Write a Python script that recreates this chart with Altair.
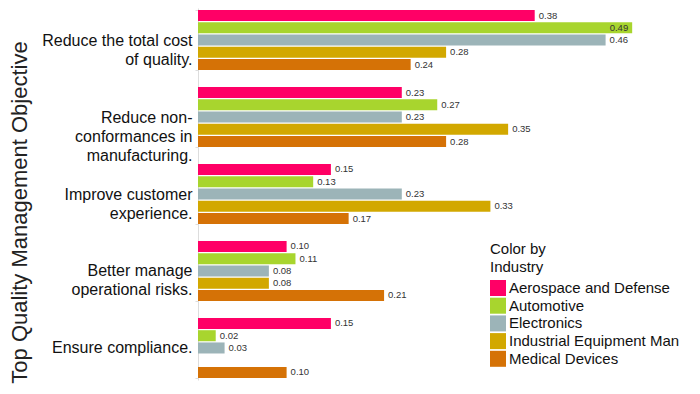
import altair as alt
import pandas as pd

objectives = [
    "Reduce the total cost of quality.",
    "Reduce non-conformances in manufacturing.",
    "Improve customer experience.",
    "Better manage operational risks.",
    "Ensure compliance.",
]
objective_lines = [
    ["Reduce the total cost", "of quality."],
    ["Reduce non-", "conformances in", "manufacturing."],
    ["Improve customer", "experience."],
    ["Better manage", "operational risks."],
    ["Ensure compliance."],
]
industries = [
    "Aerospace and Defense",
    "Automotive",
    "Electronics",
    "Industrial Equipment Man",
    "Medical Devices",
]
colors = ["#FF0066", "#A8D52E", "#9CB4B8", "#D2A800", "#D57206"]

values = {
    "Aerospace and Defense": [0.38, 0.23, 0.15, 0.10, 0.15],
    "Automotive": [0.49, 0.27, 0.13, 0.11, 0.02],
    "Electronics": [0.46, 0.23, 0.23, 0.08, 0.03],
    "Industrial Equipment Man": [0.28, 0.35, 0.33, 0.08, None],
    "Medical Devices": [0.24, 0.28, 0.17, 0.21, 0.10],
}

rows = []
for ind in industries:
    for obj, v in zip(objectives, values[ind]):
        if v is not None:
            rows.append({"Objective": obj, "Industry": ind, "Value": v})
df = pd.DataFrame(rows)

label_map = "{" + ", ".join(
    "'" + o + "': [" + ", ".join("'" + l + "'" for l in lines) + "]"
    for o, lines in zip(objectives, objective_lines)
) + "}"

FONT = "Liberation Sans"

y_enc = alt.Y(
    "Objective:N",
    sort=objectives,
    scale=alt.Scale(paddingInner=0.22, paddingOuter=0.026),
    axis=alt.Axis(
        title="Top Quality Management Objective",
        titleFontSize=22,
        titleFontWeight="normal",
        titleColor="#222222",
        titlePadding=10,
        titleY=204,
        labelFontSize=16,
        labelColor="#111111",
        labelPadding=3,
        labelLineHeight=19,
        labelExpr=label_map + "[datum.value]",
        domainColor="#dddddd",
        tickColor="#dddddd",
        tickSize=3,
        tickBand="extent",
        labelLimit=300,
    ),
)
yoff = alt.YOffset(
    "Industry:N",
    sort=industries,
    scale=alt.Scale(domain=industries, paddingInner=0.1),
)
x_enc = alt.X(
    "Value:Q",
    scale=alt.Scale(domain=[0, 0.553], nice=False),
    axis=None,
)

bars = alt.Chart(df).mark_bar().encode(
    y=y_enc,
    yOffset=yoff,
    x=x_enc,
    color=alt.Color(
        "Industry:N",
        sort=industries,
        scale=alt.Scale(domain=industries, range=colors),
        legend=alt.Legend(
            title=["Color by", "Industry"],
            titleFontSize=15,
            titleFontWeight="normal",
            titleColor="#111111",
            titleLineHeight=18,
            titlePadding=5,
            labelFontSize=15,
            labelColor="#111111",
            labelOffset=3,
            symbolType="square",
            symbolSize=256,
            symbolStrokeWidth=0,
            symbolOpacity=1,
            rowPadding=1.7,
            orient="none",
            legendX=292,
            legendY=234,
            labelLimit=300,
        ),
    ),
)

text_out = alt.Chart(df).transform_filter("datum.Value < 0.48").mark_text(
    align="left", baseline="middle", dx=4, fontSize=9.5, color="#333333", font=FONT
).encode(
    y=alt.Y("Objective:N", sort=objectives),
    yOffset=yoff,
    x=x_enc,
    text=alt.Text("Value:Q", format=".2f"),
)
text_in = alt.Chart(df).transform_filter("datum.Value >= 0.48").mark_text(
    align="right", baseline="middle", dx=-4, fontSize=9.5, color="#333333", font=FONT
).encode(
    y=alt.Y("Objective:N", sort=objectives),
    yOffset=yoff,
    x=x_enc,
    text=alt.Text("Value:Q", format=".2f"),
)

chart = (
    alt.layer(bars, text_out, text_in)
    .properties(
        width=490,
        height=372,
        autosize=alt.AutoSizeParams(type="none"),
        padding={"left": 190, "top": 0, "right": 2, "bottom": 12},
    )
    .configure(font=FONT)
    .configure_view(stroke=None)
)

chart.save("out.html", embed_options={"renderer": "svg", "actions": False})
